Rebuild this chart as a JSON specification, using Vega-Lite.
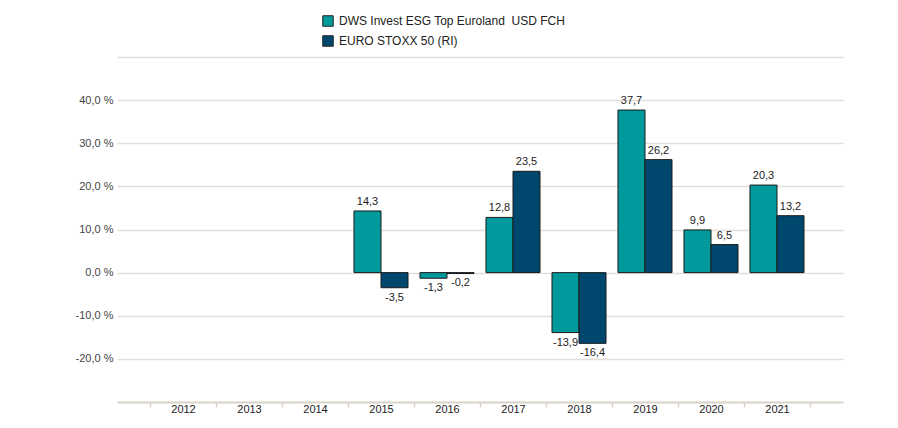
{
  "$schema": "https://vega.github.io/schema/vega-lite/v6.json",
  "width": 726,
  "height": 345,
  "autosize": {"type": "none"},
  "padding": {"left": 117, "top": 57, "right": 55, "bottom": 26},
  "background": "white",
  "config": {
    "locale": {"number": {"decimal": ",", "thousands": ".", "grouping": [3], "currency": ["", " €"], "minus": "-"}},
    "view": {"stroke": null},
    "font": "Liberation Sans"
  },
  "data": {
    "values": [
      {"year": 2015, "series": "DWS Invest ESG Top Euroland \u00a0USD FCH", "value": 14.3},
      {"year": 2015, "series": "EURO STOXX 50 (RI)", "value": -3.5},
      {"year": 2016, "series": "DWS Invest ESG Top Euroland \u00a0USD FCH", "value": -1.3},
      {"year": 2016, "series": "EURO STOXX 50 (RI)", "value": -0.2},
      {"year": 2017, "series": "DWS Invest ESG Top Euroland \u00a0USD FCH", "value": 12.8},
      {"year": 2017, "series": "EURO STOXX 50 (RI)", "value": 23.5},
      {"year": 2018, "series": "DWS Invest ESG Top Euroland \u00a0USD FCH", "value": -13.9},
      {"year": 2018, "series": "EURO STOXX 50 (RI)", "value": -16.4},
      {"year": 2019, "series": "DWS Invest ESG Top Euroland \u00a0USD FCH", "value": 37.7},
      {"year": 2019, "series": "EURO STOXX 50 (RI)", "value": 26.2},
      {"year": 2020, "series": "DWS Invest ESG Top Euroland \u00a0USD FCH", "value": 9.9},
      {"year": 2020, "series": "EURO STOXX 50 (RI)", "value": 6.5},
      {"year": 2021, "series": "DWS Invest ESG Top Euroland \u00a0USD FCH", "value": 20.3},
      {"year": 2021, "series": "EURO STOXX 50 (RI)", "value": 13.2}
    ]
  },
  "encoding": {
    "x": {
      "field": "year",
      "type": "ordinal",
      "scale": {"domain": [2012, 2013, 2014, 2015, 2016, 2017, 2018, 2019, 2020, 2021], "paddingInner": 0, "paddingOuter": 0.5},
      "axis": {
        "title": null,
        "orient": "bottom",
        "grid": false,
        "domainColor": "#d9d3c5",
        "domainWidth": 2,
        "tickColor": "#d9d3c5",
        "tickWidth": 1.5,
        "tickSize": 5,
        "tickBand": "extent",
        "labelAngle": 0,
        "labelFontSize": 11,
        "labelColor": "#222222",
        "labelPadding": -4
      }
    },
    "xOffset": {
      "field": "series",
      "type": "nominal",
      "scale": {"paddingInner": 0, "paddingOuter": 0.222}
    },
    "y": {
      "field": "value",
      "type": "quantitative",
      "scale": {"domain": [-30, 50], "nice": false, "zero": true},
      "axis": {
        "title": null,
        "domain": false,
        "ticks": false,
        "grid": true,
        "gridColor": "#e3dfd6",
        "gridWidth": 1.5,
        "values": [-20, -10, 0, 10, 20, 30, 40, 50],
        "format": ".1f",
        "labelExpr": "datum.value == 50 ? '' : datum.label + ' %'",
        "labelPadding": 4,
        "labelFontSize": 11,
        "labelColor": "#444444"
      }
    }
  },
  "layer": [
    {
      "mark": {"type": "bar", "stroke": "#1a1a1a", "strokeWidth": 1},
      "encoding": {
        "color": {
          "field": "series",
          "type": "nominal",
          "scale": {"domain": ["DWS Invest ESG Top Euroland \u00a0USD FCH", "EURO STOXX 50 (RI)"], "range": ["#00999c", "#00476e"]},
          "legend": {
            "title": null,
            "orient": "none",
            "legendX": 205,
            "legendY": -42,
            "symbolType": "square",
            "symbolSize": 110,
            "symbolStrokeColor": "#222222",
            "symbolStrokeWidth": 1,
            "labelFontSize": 12,
            "labelColor": "#222222",
            "labelOffset": 5,
            "rowPadding": 4,
            "labelLimit": 400
          }
        }
      }
    },
    {
      "transform": [{"filter": "datum.value >= 0"}],
      "mark": {"type": "text", "baseline": "bottom", "dy": -4, "fontSize": 11, "color": "#222222"},
      "encoding": {"text": {"field": "value", "type": "quantitative", "format": ".1f"}}
    },
    {
      "transform": [{"filter": "datum.value < 0"}],
      "mark": {"type": "text", "baseline": "top", "dy": 4, "fontSize": 11, "color": "#222222"},
      "encoding": {"text": {"field": "value", "type": "quantitative", "format": ".1f"}}
    }
  ]
}
